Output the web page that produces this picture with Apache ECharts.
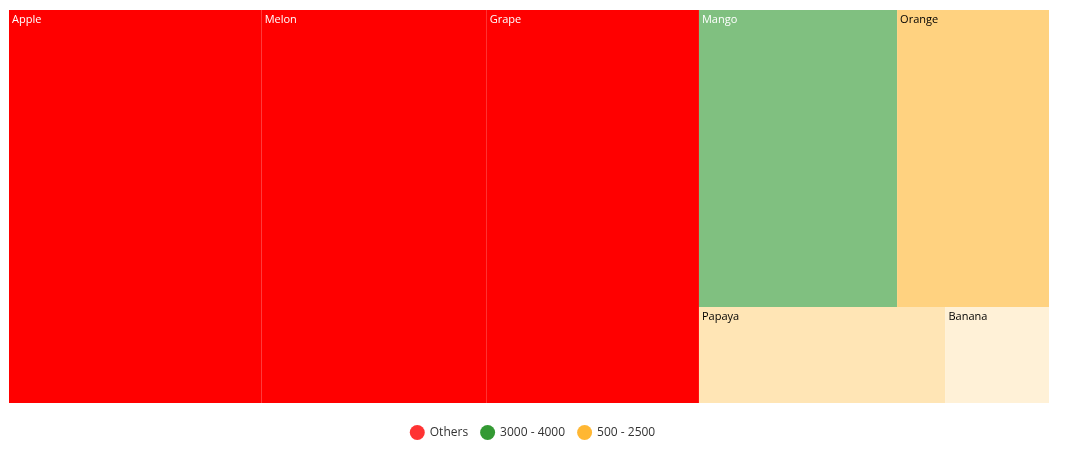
<!DOCTYPE html>
<html>
<head>
<meta charset="utf-8">
<script src="https://cdn.jsdelivr.net/npm/echarts@6/dist/echarts.min.js"></script>
<style>html,body{margin:0;padding:0;background:#fff}#main{width:1065px;height:453px}</style>
</head>
<body>
<div id="main"></div>
<script>
// fruit sales, grouped by colour range
var fruits = ['Apple', 'Melon', 'Grape', 'Mango', 'Orange', 'Papaya', 'Banana'];
var sales = [5500, 4900, 4620, 3260, 2500, 1310, 550];
var ranges = ['Others', '3000 - 4000', '500 - 2500'];
var rangeColors = ['#FF0000', '#008000', '#FFA500'];

function rangeOf(v) {
	if (v >= 500 && v <= 2500) return 2;
	if (v >= 3000 && v <= 4000) return 1;
	return 0;
}
function alphaOf(v, r) {
	if (r == 0) return 1;
	if (r == 1) return 0.5;
	return 0.15 + 0.35 * (v - 500) / 2000;
}
function mix(hex, a) {
	var n = parseInt(hex.slice(1), 16);
	var c = [(n >> 16) & 255, (n >> 8) & 255, n & 255].map(function (x) {
		return Math.round(255 - (255 - x) * a);
	});
	return 'rgb(' + c.join(',') + ')';
}

function leaf(i) {
	var r = rangeOf(sales[i]);
	return {
		name: fruits[i],
		value: sales[i],
		itemStyle: { color: mix(rangeColors[r], alphaOf(sales[i], r)) },
		label: { color: r == 2 ? '#000' : '#fff' }
	};
}
function group(list) {
	var sum = 0, ch = [];
	list.forEach(function (i) { sum += sales[i]; ch.push(leaf(i)); });
	return { name: '', value: sum, children: ch };
}

var treeData = [group([0, 1, 2]), group([3, 4, 5, 6])];

var myChart = echarts.init(document.getElementById('main'));
var option = {
	animation: false,
	xAxis: { show: false },
	yAxis: { show: false },
	grid: { left: 0, top: 0, width: 1, height: 1 },
	legend: {
		bottom: 8,
		left: 'center',
		icon: 'circle',
		itemWidth: 15,
		itemHeight: 15,
		itemGap: 12,
		textStyle: { fontSize: 12, color: '#333', fontFamily: 'Open Sans' },
		data: ranges
	},
	series: ranges.map(function (r, i) {
		return { type: 'scatter', name: r, color: rangeColors[i], data: [] };
	}).concat([{
		type: 'treemap',
		left: 9, top: 10, width: 1040, height: 393,
		roam: false,
		nodeClick: false,
		breadcrumb: { show: false },
		squareRatio: 1,
		label: {
			show: true,
			position: 'insideTopLeft',
			fontSize: 11,
			fontFamily: 'Open Sans',
			padding: [0, 0, 0, 0],
			offset: [3, 4]
		},
		upperLabel: { show: false },
		levels: [
			{ itemStyle: { borderWidth: 0, gapWidth: 0 } },
			{ itemStyle: { borderWidth: 0, gapWidth: 0 } },
			{ itemStyle: { borderWidth: 0, gapWidth: 0 } }
		],
		data: treeData
	}])
};
myChart.setOption(option);
</script>
</body>
</html>
